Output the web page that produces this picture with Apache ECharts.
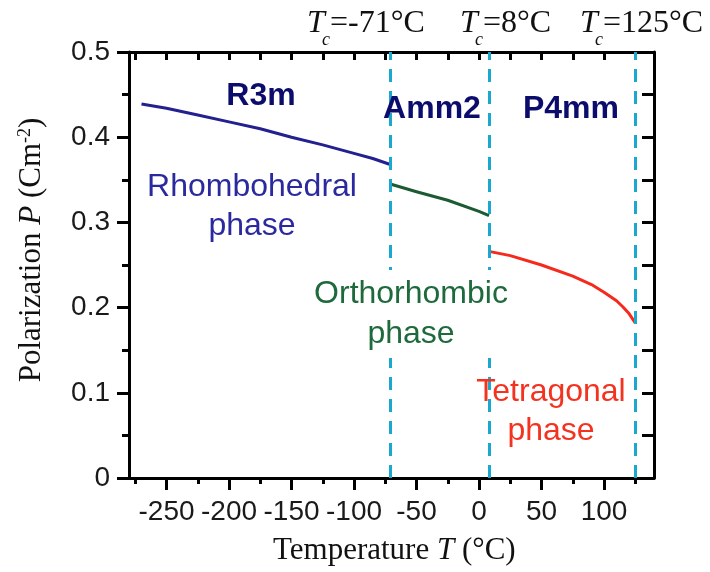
<!DOCTYPE html>
<html lang="en">
<head>
  <meta charset="UTF-8">
  <title>Polarization vs temperature</title>
  <script src="https://cdn.jsdelivr.net/npm/echarts@6/dist/echarts.min.js"></script>
</head>
<body style="margin:0;background:#fff">
<div id="main" style="width: 710px;height: 572px"></div>
<script type="text/javascript">
  // phase curves (T in °C, P in C/m^2)
  var rhombT = [-270, -250, -225, -200, -175, -150, -125, -100, -85, -71];
  var rhombP = [0.439, 0.434, 0.426, 0.418, 0.410, 0.400, 0.391, 0.381, 0.375, 0.368];
  var orthoT = [-71, -50, -25, 0, 8];
  var orthoP = [0.345, 0.336, 0.326, 0.313, 0.308];
  var tetraT = [8, 25, 50, 75, 90, 100, 110, 115, 120, 125];
  var tetraP = [0.266, 0.261, 0.250, 0.237, 0.227, 0.218, 0.208, 0.201, 0.193, 0.182];

  var transitions = [-71, 8, 125];
  var transitionText = ['=-71°C', '=8°C', '=125°C'];

  var xMajor = [-250, -200, -150, -100, -50, 0, 50, 100];
  var xMinor = [-275, -225, -175, -125, -75, -25, 25, 75, 125];
  var xTop = [-275, -250, -225, -200, -175, -150, -125, -100, -75, -50, -25, 0, 25, 50, 75, 100, 125];

  function zip(a, b) {
    return a.map(function (v, i) { return [v, b[i]]; });
  }

  var black = '#000';
  var axisLine = {show: true, onZero: false, lineStyle: {color: black, width: 3}};
  var serif = '"Liberation Serif", "Times New Roman", serif';
  var sans = '"Liberation Sans", Arial, sans-serif';

  function tcLabel(x, rest) {
    return {
      type: 'group', x: x, y: 0, z: 100,
      children: [
        {type: 'text', x: 0, y: 24, style: {text: 'T', font: 'italic 32px ' + serif, fill: '#111', verticalAlign: 'middle'}},
        {type: 'text', x: 15, y: 40, style: {text: 'c', font: 'italic 18px ' + serif, fill: '#111', verticalAlign: 'middle'}},
        {type: 'text', x: 23, y: 24, style: {text: rest, font: '32px ' + serif, fill: '#111', verticalAlign: 'middle'}}
      ]
    };
  }

  var myChart = echarts.init(document.getElementById('main'));
  var option = {
    animation: false,
    grid: {left: 129, right: 56, top: 52, bottom: 94},
    xAxis: [
      {
        type: 'value', position: 'bottom', min: -280, max: 140,
        axisLine: axisLine,
        axisTick: {customValues: xMajor, length: 12, lineStyle: {color: black, width: 3}},
        axisLabel: {customValues: xMajor, fontSize: 28, fontFamily: sans, color: '#1a1a1a', margin: 20},
        splitLine: {show: false}
      },
      {
        type: 'value', position: 'bottom', min: -280, max: 140,
        axisLine: {show: false},
        axisTick: {customValues: xMinor, length: 6, lineStyle: {color: black, width: 3}},
        axisLabel: {show: false}, splitLine: {show: false}
      },
      {
        type: 'value', position: 'top', min: -280, max: 140,
        axisLine: axisLine,
        axisTick: {customValues: xTop, inside: true, length: 8, lineStyle: {color: black, width: 3}},
        axisLabel: {show: false}, splitLine: {show: false}
      }
    ],
    yAxis: [
      {
        type: 'value', position: 'left', min: 0, max: 0.5, interval: 0.1,
        axisLine: axisLine,
        axisTick: {length: 12, lineStyle: {color: black, width: 3}},
        minorTick: {show: true, splitNumber: 2, length: 7, lineStyle: {color: black, width: 3}},
        axisLabel: {fontSize: 28, fontFamily: sans, color: '#1a1a1a', margin: 19},
        splitLine: {show: false}, minorSplitLine: {show: false}
      },
      {
        type: 'value', position: 'right', min: 0, max: 0.5, interval: 0.05,
        axisLine: axisLine,
        axisTick: {inside: true, length: 12, lineStyle: {color: black, width: 3}},
        axisLabel: {show: false}, splitLine: {show: false}
      }
    ],
    series: [
      {
        name: 'Rhombohedral', type: 'line', data: zip(rhombT, rhombP),
        showSymbol: false, lineStyle: {color: '#23208f', width: 3, join: 'round'}
      },
      {
        name: 'Orthorhombic', type: 'line', data: zip(orthoT, orthoP),
        showSymbol: false, lineStyle: {color: '#1b5a33', width: 3, join: 'round'}
      },
      {
        name: 'Tetragonal', type: 'line', data: zip(tetraT, tetraP),
        showSymbol: false, lineStyle: {color: '#f52a1c', width: 3, join: 'round'},
        markLine: {
          silent: true, symbol: 'none', label: {show: false},
          lineStyle: {color: '#1ba8cf', width: 3, type: [13, 9]},
          data: transitions.map(function (t) { return {xAxis: t}; })
        }
      }
    ],
    graphic: [
      tcLabel(307, transitionText[0]),
      tcLabel(460, transitionText[1]),
      tcLabel(580, transitionText[2]),
      {type: 'text', x: 261, y: 96, z: 100, style: {text: 'R3m', font: 'bold 32px ' + sans, fill: '#0c0c6c', align: 'center', verticalAlign: 'middle'}},
      {type: 'text', x: 432, y: 109, z: 100, style: {text: 'Amm2', font: 'bold 32px ' + sans, fill: '#0c0c6c', align: 'center', verticalAlign: 'middle'}},
      {type: 'text', x: 571, y: 109, z: 100, style: {text: 'P4mm', font: 'bold 32px ' + sans, fill: '#0c0c6c', align: 'center', verticalAlign: 'middle'}},
      {type: 'text', x: 252, y: 207, z: 100, style: {text: 'Rhombohedral\nphase', font: '32px ' + sans, lineHeight: 39, fill: '#2a2a9e', align: 'center', verticalAlign: 'middle'}},
      {type: 'text', x: 411, y: 314, z: 100, style: {text: 'Orthorhombic\nphase', font: '32px ' + sans, lineHeight: 40, fill: '#1e6a3c', align: 'center', verticalAlign: 'middle', backgroundColor: '#fff', padding: [4, 2]}},
      {type: 'text', x: 551, y: 412, z: 100, style: {text: 'Tetragonal\nphase', font: '32px ' + sans, lineHeight: 39, fill: '#f3321f', align: 'center', verticalAlign: 'middle'}},
      {
        type: 'text', x: 273, y: 551, z: 100,
        style: {
          text: 'Temperature {i|T} (°C)', font: '31px ' + serif, fill: '#111', verticalAlign: 'middle',
          rich: {i: {fontStyle: 'italic', fontSize: 31, fontFamily: serif, fill: '#111'}}
        }
      },
      {
        type: 'text', x: 32, y: 250, z: 100, rotation: Math.PI / 2,
        style: {
          text: 'Polarization {i|P} (Cm{s|-2})', font: '31px ' + serif, fill: '#111', align: 'center', verticalAlign: 'middle',
          rich: {
            i: {fontStyle: 'italic', fontSize: 31, fontFamily: serif, fill: '#111'},
            s: {fontSize: 18, fontFamily: serif, fill: '#111', verticalAlign: 'top'}
          }
        }
      }
    ]
  };
  myChart.setOption(option);
</script>
</body>
</html>
